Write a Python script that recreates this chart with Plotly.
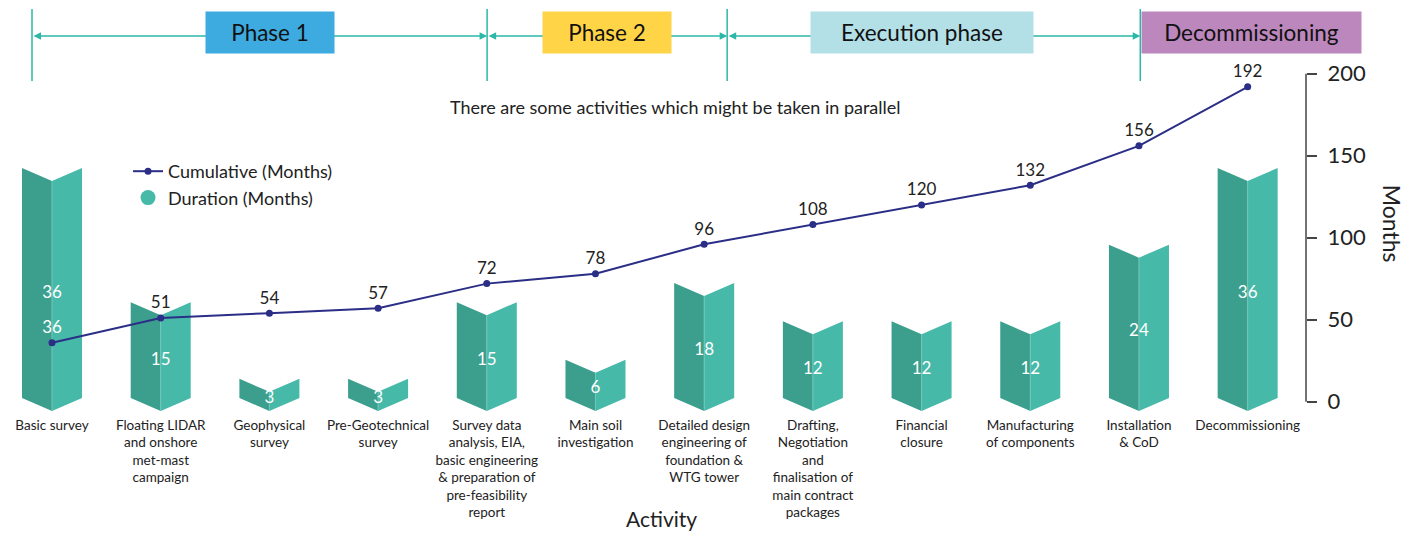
import plotly.graph_objects as go

# ---------------- data ----------------
activities = [
    "Basic survey",
    "Floating LIDAR<br>and onshore<br>met-mast<br>campaign",
    "Geophysical<br>survey",
    "Pre-Geotechnical<br>survey",
    "Survey data<br>analysis, EIA,<br>basic engineering<br>& preparation of<br>pre-feasibility<br>report",
    "Main soil<br>investigation",
    "Detailed design<br>engineering of<br>foundation &<br>WTG tower",
    "Drafting,<br>Negotiation<br>and<br>finalisation of<br>main contract<br>packages",
    "Financial<br>closure",
    "Manufacturing<br>of components",
    "Installation<br>& CoD",
    "Decommissioning",
]
duration = [36, 15, 3, 3, 15, 6, 18, 12, 12, 12, 24, 36]
cumulative = [36, 51, 54, 57, 72, 78, 96, 108, 120, 132, 156, 192]
right_ticks = [0, 50, 100, 150, 200]

phase_names = ["Phase 1", "Phase 2", "Execution phase", "Decommissioning"]
phase_colors = ["#3DAAE0", "#FFD447", "#B3DFE6", "#BC87BC"]

# ---------------- layout geometry (measured in page px, then offset by body margin) ----------------
OFF = 8  # default page body margin
W, H = 1414 - 2 * OFF, 539 - 2 * OFF

def fx(px):   # page px -> figure px (x)
    return px - OFF

def fy(px):   # page px -> figure px (y)
    return px - OFF

PLOT_W = fx(1305.7)
PLOT_H = fy(415)
X0_PX, X_STEP = fx(52.0), 108.67
BAR_BASE_PX, BAR_SCALE = fy(398.0), 6.39
LINE_ZERO_PX, LINE_SCALE = fy(401.7), 1.64

x_range = [(0 - X0_PX) / X_STEP, (PLOT_W - X0_PX) / X_STEP]
y_bar_range = [-(PLOT_H - BAR_BASE_PX) / BAR_SCALE, BAR_BASE_PX / BAR_SCALE]
y_line_range = [-(PLOT_H - LINE_ZERO_PX) / LINE_SCALE, LINE_ZERO_PX / LINE_SCALE]

HALF = 30 / X_STEP            # half width of folded bar (x units)
NOTCH = 13 / BAR_SCALE        # depth of V notch (duration units)

def px_x(px):   # page px -> x data
    return (fx(px) - X0_PX) / X_STEP

def paper_y(px):  # page px -> paper y
    return (PLOT_H - fy(px)) / PLOT_H

def paper_x(px):
    return fx(px) / PLOT_W

phase_bounds = [px_x(32), px_x(487), px_x(727), px_x(1140)]
phase_box_centers_px = [270, 607, 922, 1251.5]
phase_box_widths = [126, 126, 220, 217]

FONT = "Lato"
DARK = "#3C9F8E"
LIGHT = "#47B9A9"
FOLD = "#6FC7BA"
TEAL_LINE = "#2BB8A8"
NAVY = "#2B2E86"

# ---------------- build fold-bar polygons ----------------
lx, ly, rx, ry, fxs, fys = [], [], [], [], [], []
for i, v in enumerate(duration):
    lx += [i - HALF, i - HALF, i, i, i - HALF, None]
    ly += [0, v, v - NOTCH, -NOTCH, 0, None]
    rx += [i, i, i + HALF, i + HALF, i, None]
    ry += [-NOTCH, v - NOTCH, v, 0, -NOTCH, None]
    fxs += [i, i, None]
    fys += [-NOTCH, v - NOTCH, None]

fig = go.Figure()
fig.add_trace(go.Scatter(x=lx, y=ly, mode="lines", fill="toself", fillcolor=DARK,
                         line=dict(width=0, color=DARK), showlegend=False, hoverinfo="skip"))
fig.add_trace(go.Scatter(x=rx, y=ry, mode="lines", fill="toself", fillcolor=LIGHT,
                         line=dict(width=0, color=LIGHT), showlegend=False, hoverinfo="skip"))
fig.add_trace(go.Scatter(x=fxs, y=fys, mode="lines", line=dict(width=1, color=FOLD),
                         showlegend=False, hoverinfo="skip"))
# bar value labels
fig.add_trace(go.Scatter(
    x=list(range(len(duration))),
    y=[v / 2 - NOTCH * 0.8 for v in duration],
    mode="text", text=[str(v) for v in duration],
    textfont=dict(color="white", size=17, family=FONT),
    showlegend=False, hoverinfo="skip", cliponaxis=False))
# legend stand-in for duration
fig.add_trace(go.Scatter(x=[None], y=[None], mode="markers", name="Duration (Months)",
                         marker=dict(color=LIGHT, size=15), legendrank=2))
# cumulative line
label_colors = ["white"] + ["#222222"] * (len(cumulative) - 1)
fig.add_trace(go.Scatter(
    x=list(range(len(cumulative))), y=cumulative, yaxis="y2",
    mode="lines+markers+text", name="Cumulative (Months)",
    line=dict(color=NAVY, width=2), marker=dict(color=NAVY, size=7),
    text=[str(v) for v in cumulative], textposition="top center",
    textfont=dict(size=17, color=label_colors, family=FONT),
    cliponaxis=False, legendrank=1))

shapes = []
annotations = []
# phase boundaries
for b in phase_bounds:
    shapes.append(dict(type="line", xref="x", yref="paper", x0=b, x1=b,
                       y0=paper_y(81), y1=paper_y(9),
                       line=dict(color=TEAL_LINE, width=1.5)))
# phase arrows
for k in range(3):
    annotations.append(dict(
        x=phase_bounds[k + 1], y=paper_y(36), xref="x", yref="paper",
        ax=phase_bounds[k], ay=0, axref="x", ayref="pixel",
        text="", showarrow=True, arrowhead=2, startarrowhead=2,
        arrowside="end+start", arrowsize=1, arrowwidth=1.5,
        arrowcolor=TEAL_LINE, standoff=0, startstandoff=0))
# phase boxes
for name, col, cpx, wpx in zip(phase_names, phase_colors, phase_box_centers_px, phase_box_widths):
    annotations.append(dict(
        x=px_x(cpx), y=paper_y(32.5), xref="x", yref="paper",
        text=name, showarrow=False, bgcolor=col, width=wpx, height=39,
        xanchor="center", yanchor="middle",
        font=dict(size=22.5, color="#111111", family=FONT)))
annotations.append(dict(
    x=px_x(675), y=paper_y(107), xref="x", yref="paper",
    xanchor="center", yanchor="middle",
    text="There are some activities which might be taken in parallel",
    showarrow=False, font=dict(size=18, color="#222222", family=FONT)))
annotations.append(dict(
    x=px_x(661), y=paper_y(519), xref="x", yref="paper", text="Activity",
    xanchor="center", yanchor="middle",
    showarrow=False, font=dict(size=21, color="#222222", family=FONT)))
annotations.append(dict(
    x=paper_x(1392), y=paper_y(224), xref="paper", yref="paper", text="Months",
    xanchor="center", yanchor="middle",
    textangle=90, showarrow=False, font=dict(size=23, color="#222222", family=FONT)))
# right axis line only from 0 to 200
shapes.append(dict(type="line", xref="paper", yref="y2", x0=1, x1=1,
                   y0=right_ticks[0], y1=right_ticks[-1],
                   line=dict(color="#444444", width=1.5)))

fig.update_layout(
    width=W, height=H,
    margin=dict(l=0, r=W - PLOT_W, t=0, b=H - PLOT_H),
    paper_bgcolor="white", plot_bgcolor="white",
    font=dict(family=FONT, color="#222222"),
    xaxis=dict(range=x_range, tickmode="array", tickvals=list(range(len(activities))),
               ticktext=activities, showgrid=False, zeroline=False, showline=False,
               ticks="", tickfont=dict(size=13.5, color="#222222", family=FONT)),
    yaxis=dict(range=y_bar_range, visible=False, showgrid=False, zeroline=False),
    yaxis2=dict(range=y_line_range, overlaying="y", side="right", anchor="x",
                tickmode="array", tickvals=right_ticks, showgrid=False, zeroline=False,
                showline=False, ticks="outside", ticklen=10, tickwidth=1.5,
                tickcolor="#444444", ticklabelstandoff=6,
                tickfont=dict(size=22, color="#222222", family=FONT)),
    legend=dict(x=paper_x(128), y=paper_y(153), xanchor="left", yanchor="top",
                bgcolor="rgba(0,0,0,0)", font=dict(size=18, color="#222222", family=FONT),
                tracegroupgap=0),
    shapes=shapes, annotations=annotations,
)

fig.write_html("out.html")
